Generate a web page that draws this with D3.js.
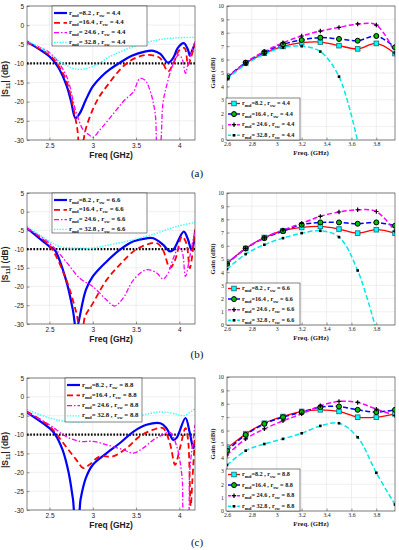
<!DOCTYPE html>
<html>
<head>
<meta charset="utf-8">
<script src="https://cdn.jsdelivr.net/npm/d3@7"></script>
<style>
  body { margin: 0; background: #fff; }
  svg { display: block; }
</style>
</head>
<body>
<svg id="fig" width="399" height="550"></svg>
<script>
// ---- data: |S11| curves, [freq GHz, dB] ----
const s11A_md82 = [[2.24,-4.3],[2.5,-8.2],[2.6,-11],[2.7,-16],[2.75,-20],[2.8,-24.3],[2.85,-23],[2.92,-19.5],[3.0,-16],[3.1,-13.4],[3.2,-11.5],[3.3,-10],[3.45,-8],[3.6,-6.9],[3.7,-6.7],[3.78,-7.5],[3.87,-9.8],[3.93,-8.5],[3.98,-6],[4.05,-4.7],[4.1,-6.5],[4.12,-8],[4.15,-6.5],[4.18,-4.8]];
const s11A_md164 = [[2.24,-4.5],[2.5,-7.8],[2.6,-10.5],[2.69,-14.3],[2.76,-20],[2.82,-27],[2.85,-32],[2.88,-31],[2.92,-27],[3.0,-22],[3.08,-18.5],[3.16,-16],[3.28,-12.5],[3.39,-10],[3.5,-8.5],[3.62,-7.8],[3.72,-8],[3.78,-8.7],[3.87,-12.1],[3.93,-10],[4.0,-6.5],[4.06,-6],[4.1,-10.4],[4.14,-8],[4.18,-4.7]];
const s11A_md246 = [[2.24,-4.5],[2.5,-7.2],[2.69,-13],[2.8,-22.2],[2.89,-27.4],[2.96,-28.7],[3.0,-29.3],[3.08,-27.4],[3.17,-25],[3.27,-22.2],[3.37,-19.5],[3.47,-17.4],[3.54,-14],[3.6,-14.3],[3.66,-17],[3.72,-23],[3.75,-32],[3.77,-32],[3.81,-20.4],[3.85,-16],[3.93,-10],[3.99,-7.8],[4.03,-8.7],[4.07,-12.6],[4.1,-10],[4.18,-4.3]];
const s11A_md328 = [[2.24,-4],[2.5,-7.4],[2.62,-9.5],[2.81,-11.5],[3.0,-10.8],[3.2,-8.2],[3.47,-5.6],[3.74,-3.9],[3.97,-3.3],[4.18,-3.2]];

const s11B_md82 = [[2.24,-4.4],[2.5,-9.3],[2.56,-10.2],[2.69,-18.2],[2.77,-26.3],[2.81,-32],[2.84,-29],[2.92,-20.9],[3.0,-17.3],[3.16,-13.3],[3.31,-10.2],[3.47,-7.9],[3.62,-7.1],[3.7,-7.1],[3.81,-8.8],[3.89,-10.6],[3.93,-10.2],[4.05,-5.3],[4.1,-7.5],[4.14,-10.2],[4.18,-6.6]];
const s11B_md164 = [[2.24,-4.4],[2.5,-9.1],[2.69,-18],[2.81,-27],[2.85,-31],[2.88,-31],[2.91,-28],[3.0,-24.5],[3.16,-18.2],[3.31,-14.2],[3.47,-10.6],[3.62,-8.8],[3.74,-8.4],[3.81,-10.2],[3.89,-15],[3.95,-12.9],[4.03,-6.6],[4.08,-8.4],[4.12,-15.1],[4.18,-4.8]];
const s11B_md246 = [[2.24,-4.4],[2.5,-8.4],[2.69,-13.3],[2.85,-17.8],[3.0,-20],[3.16,-23.6],[3.25,-25.2],[3.35,-23.1],[3.47,-18.2],[3.62,-15.5],[3.74,-16.4],[3.81,-18],[3.87,-16.4],[3.93,-12.4],[3.99,-9.7],[4.03,-10.6],[4.07,-17.3],[4.12,-12],[4.18,-4.8]];
const s11B_md328 = [[2.24,-3.9],[2.5,-7.9],[2.62,-9.3],[2.81,-9.7],[3.0,-9.7],[3.2,-8.8],[3.47,-7.5],[3.74,-5.7],[3.97,-3.9],[4.18,-2.9]];

const s11C_md82 = [[2.24,-4.1],[2.5,-8.3],[2.56,-9.8],[2.65,-14],[2.72,-20],[2.77,-27],[2.8,-32],[2.83,-32],[2.86,-27],[2.92,-21.5],[3.0,-18],[3.16,-14.9],[3.31,-12.3],[3.47,-9.2],[3.62,-7.4],[3.78,-7],[3.85,-8.3],[3.93,-11.4],[3.97,-10.8],[4.07,-5.6],[4.12,-9.6],[4.16,-13.6],[4.18,-11.8]];
const s11C_md164 = [[2.24,-3.9],[2.5,-7.8],[2.69,-13.2],[2.81,-16.7],[2.89,-18.9],[2.96,-18],[3.08,-15.8],[3.23,-15.8],[3.39,-13.6],[3.54,-10.5],[3.7,-8.7],[3.81,-8.3],[3.89,-12.3],[3.95,-18],[4.01,-13.2],[4.07,-8.3],[4.1,-11.4],[4.13,-29],[4.15,-22],[4.18,-10.5]];
const s11C_md246 = [[2.24,-4.1],[2.5,-7.4],[2.69,-10.5],[2.85,-11.8],[3.0,-11.8],[3.16,-12.7],[3.35,-14],[3.47,-14.9],[3.58,-13.6],[3.7,-11.4],[3.81,-10.1],[3.89,-9.4],[3.97,-13.2],[4.03,-21.1],[4.06,-33],[4.09,-33],[4.12,-19.3],[4.18,-7.4]];
const s11C_md328 = [[2.24,-3.4],[2.5,-5.6],[2.69,-6.5],[3.0,-6.5],[3.27,-6.1],[3.54,-5],[3.78,-4],[3.97,-4.6],[4.05,-5],[4.18,-3.1]];

// ---- data: gain (dBi) ----
const gainFreq = [2.6, 2.75, 2.9, 3.05, 3.2, 3.35, 3.5, 3.65, 3.8, 3.95];
const gainA_md82  = [4.65, 5.72, 6.47, 6.98, 7.26, 7.31, 7.04, 6.8, 7.21, 6.45];
const gainA_md164 = [4.68, 5.77, 6.55, 7.14, 7.46, 7.64, 7.54, 7.41, 7.76, 6.92];
const gainA_md246 = [4.6, 5.8, 6.6, 7.26, 7.76, 8.13, 8.4, 8.66, 8.58, 6.5];
const gainA_md328 = [4.55, 5.65, 6.4, 6.9, 7.0, 6.6, 4.73, -0.1, null, null];

const gainB_md82  = [4.68, 5.8, 6.63, 7.14, 7.39, 7.47, 7.27, 6.96, 7.22, 6.96];
const gainB_md164 = [4.63, 5.8, 6.58, 7.11, 7.6, 7.77, 7.77, 7.67, 7.77, 7.52];
const gainB_md246 = [4.65, 5.8, 6.6, 7.2, 7.7, 8.23, 8.56, 8.73, 8.6, 7.1];
const gainB_md328 = [4.23, 5.37, 6.08, 6.58, 6.96, 7.14, 6.66, 4.13, -0.4, null];

const gainC_md82  = [4.68, 5.75, 6.55, 7.05, 7.43, 7.55, 7.43, 7.0, 7.0, 7.25];
const gainC_md164 = [4.5, 5.68, 6.5, 7.0, 7.38, 7.75, 7.8, 7.55, 7.38, 7.55];
const gainC_md246 = [4.18, 5.38, 6.13, 6.73, 7.25, 7.85, 8.18, 8.1, 7.6, 7.13];
const gainC_md328 = [3.43, 4.5, 5.0, 5.38, 5.8, 6.35, 6.55, 5.5, 2.85, 0.48];

// ---- labels / ticks ----
const rmdLabels = ["=8.2", "=16.4", "= 24.6", "= 32.8"];
const rswLabels = ["4.4", "6.6", "8.8"];
const panelLabels = ["(a)", "(b)", "(c)"];
const s11XTicks = [2.5, 3, 3.5, 4];
const s11YTicks = [5, 0, -5, -10, -15, -20, -25, -30];
const gainXTicks = [2.6, 2.8, 3, 3.2, 3.4, 3.6, 3.8];
const gainYTicks = [0, 1, 2, 3, 4, 5, 6, 7, 8, 9, 10];

const svg = d3.select("#fig");
const serif = "'Liberation Serif', 'Times New Roman', serif";
const sans = "'Liberation Sans', Arial, sans-serif";

// MATLAB style box axes, ticks pointing in, light grid
function frame(g, x, y, xt, yt, font, fs, clipId, padX) {
    const [x0, x1] = x.range();
    const [y1, y0] = y.range();

    g.append("g").selectAll("line").data(xt).join("line")
        .attr("x1", d => x(d)).attr("x2", d => x(d))
        .attr("y1", y0).attr("y2", y1)
        .attr("stroke", "#e4e4e4").attr("stroke-width", 0.6);
    g.append("g").selectAll("line").data(yt).join("line")
        .attr("x1", x0).attr("x2", x1)
        .attr("y1", d => y(d)).attr("y2", d => y(d))
        .attr("stroke", "#e4e4e4").attr("stroke-width", 0.6);

    const fmt = d => String(d);
    const bx = g.append("g").attr("transform", `translate(0,${y1})`)
        .call(d3.axisBottom(x).tickValues(xt).tickSizeInner(-2.5).tickSizeOuter(0).tickPadding(padX).tickFormat(fmt));
    const by = g.append("g").attr("transform", `translate(${x0},0)`)
        .call(d3.axisLeft(y).tickValues(yt).tickSizeInner(-2.5).tickSizeOuter(0).tickPadding(3).tickFormat(fmt));
    [bx, by].forEach(a => {
        a.select(".domain").remove();
        a.selectAll("line").attr("stroke", "#333").attr("stroke-width", 0.5);
        a.selectAll("text").attr("font-family", font).attr("font-size", fs).attr("fill", "#222");
    });

    g.append("clipPath").attr("id", clipId).append("rect")
        .attr("x", x0).attr("y", y0).attr("width", x1 - x0).attr("height", y1 - y0);
}

function subLabel(t, k, row) {
    t.append("tspan").text("r");
    t.append("tspan").attr("dy", 2).attr("font-size", 4.8).text("md");
    t.append("tspan").attr("dy", -2).text(rmdLabels[k] + " , r");
    t.append("tspan").attr("dy", 2).attr("font-size", 4.8).text("sw");
    t.append("tspan").attr("dy", -2).text(" = " + rswLabels[row]);
}

const s11Styles = [
    { color: "#0000ff", width: 2.2, dash: null },
    { color: "#ff0000", width: 1.8, dash: "6,3.5" },
    { color: "#ff00ff", width: 1.3, dash: "5,2,1.5,2" },
    { color: "#33ffff", width: 1.4, dash: "1.4,1.4" }
];

function drawS11(row, series, top, bottom, leg) {
    const x = d3.scaleLinear().domain([2.24, 4.18]).range([27, 195]);
    const y = d3.scaleLinear().domain([-30, 5]).range([bottom, top]);
    const g = svg.append("g");
    const clipId = "c_s11_" + row;
    frame(g, x, y, s11XTicks, s11YTicks, sans, 6.5, clipId, 3);

    const line = d3.line().x(d => x(d[0])).y(d => y(d[1])).curve(d3.curveCatmullRom.alpha(0.5));
    const lg = g.append("g").attr("clip-path", `url(#${clipId})`);

    lg.append("line")
        .attr("x1", x(2.24)).attr("x2", x(4.18)).attr("y1", y(-10)).attr("y2", y(-10))
        .attr("stroke", "#000").attr("stroke-width", 2.2).attr("stroke-dasharray", "1.6,1.6");

    series.forEach((s, k) => {
        const st = s11Styles[k];
        lg.append("path").datum(s).attr("d", line).attr("fill", "none")
            .attr("stroke", st.color).attr("stroke-width", st.width)
            .attr("stroke-dasharray", st.dash);
    });

    g.append("rect").attr("x", 27).attr("y", top).attr("width", 168).attr("height", bottom - top)
        .attr("fill", "none").attr("stroke", "#333").attr("stroke-width", 0.6);

    // legend
    const L = g.append("g");
    L.append("rect").attr("x", leg.x).attr("y", leg.y).attr("width", leg.w).attr("height", leg.h)
        .attr("fill", "#fff").attr("stroke", "#333").attr("stroke-width", 0.6);
    series.forEach((s, k) => {
        const st = s11Styles[k];
        const yy = leg.y + 7 + k * leg.dy;
        L.append("line").attr("x1", leg.x + 2).attr("x2", leg.x + 15).attr("y1", yy).attr("y2", yy)
            .attr("stroke", st.color).attr("stroke-width", st.width).attr("stroke-dasharray", st.dash);
        const t = L.append("text").attr("x", leg.x + 17).attr("y", yy + 1.5)
            .attr("font-family", serif).attr("font-weight", "bold").attr("font-size", 6.8).attr("fill", "#111");
        subLabel(t, k, row);
    });

    g.append("text").attr("x", 111).attr("y", bottom + 18)
        .attr("text-anchor", "middle").attr("font-family", sans).attr("font-weight", "bold")
        .attr("font-size", 8.5).attr("fill", "#222").text("Freq (GHz)");

    const yl = g.append("text")
        .attr("transform", `translate(8,${(top + bottom) / 2 + 6}) rotate(-90)`)
        .attr("text-anchor", "middle").attr("font-family", sans).attr("font-weight", "bold")
        .attr("font-size", 8.5).attr("fill", "#222");
    yl.append("tspan").text("|S");
    yl.append("tspan").attr("dy", 2).attr("font-size", 6).text("11");
    yl.append("tspan").attr("dy", -2).text("| (dB)");
}

const gainStyles = [
    { color: "#ff0000", width: 1.3, dash: null, marker: "sq" },
    { color: "#0000ff", width: 1.5, dash: "5,2.5", marker: "circ" },
    { color: "#ff00ff", width: 1.5, dash: "5,2.5", marker: "plus" },
    { color: "#00e8e8", width: 1.5, dash: "5,2.5", marker: "dot" }
];

function marker(sel, type, px, py) {
    if (type === "sq") {
        sel.append("rect").attr("x", px - 2.3).attr("y", py - 2.3).attr("width", 4.6).attr("height", 4.6)
            .attr("fill", "#00ffff").attr("stroke", "#137a86").attr("stroke-width", 0.9);
    } else if (type === "circ") {
        sel.append("circle").attr("cx", px).attr("cy", py).attr("r", 2.5)
            .attr("fill", "#00c000").attr("stroke", "#000").attr("stroke-width", 1);
    } else if (type === "plus") {
        sel.append("path").attr("d", `M${px - 2.2},${py}H${px + 2.2}M${px},${py - 2.2}V${py + 2.2}`)
            .attr("stroke", "#000").attr("stroke-width", 1.2);
    } else {
        sel.append("rect").attr("x", px - 1.3).attr("y", py - 1.3).attr("width", 2.6).attr("height", 2.6)
            .attr("fill", "#000");
    }
}

function drawGain(row, series, top, bottom) {
    const x = d3.scaleLinear().domain([2.6, 3.95]).range([227, 395]);
    const y = d3.scaleLinear().domain([0, 10]).range([bottom, top]);
    const g = svg.append("g");
    const clipId = "c_gain_" + row;
    frame(g, x, y, gainXTicks, gainYTicks, serif, 5.8, clipId, 1.5);

    const line = d3.line().defined(d => d != null)
        .x((d, i) => x(gainFreq[i])).y(d => y(d)).curve(d3.curveCatmullRom.alpha(0.5));
    const lg = g.append("g").attr("clip-path", `url(#${clipId})`);

    series.forEach((s, k) => {
        const st = gainStyles[k];
        lg.append("path").datum(s).attr("d", line).attr("fill", "none")
            .attr("stroke", st.color).attr("stroke-width", st.width).attr("stroke-dasharray", st.dash);
    });
    series.forEach((s, k) => {
        s.forEach((v, i) => {
            if (v == null || v < 0) return;
            marker(lg, gainStyles[k].marker, x(gainFreq[i]), y(v));
        });
    });

    g.append("rect").attr("x", 227).attr("y", top).attr("width", 168).attr("height", bottom - top)
        .attr("fill", "none").attr("stroke", "#333").attr("stroke-width", 0.6);

    // legend, lower left
    const lx = 226, lw = 74, lh = 42, ly = bottom - lh;
    const L = g.append("g");
    L.append("rect").attr("x", lx).attr("y", ly).attr("width", lw).attr("height", lh)
        .attr("fill", "#fff").attr("stroke", "#333").attr("stroke-width", 0.6);
    series.forEach((s, k) => {
        const st = gainStyles[k];
        const yy = ly + 5.5 + k * 10.6;
        L.append("line").attr("x1", lx + 2).attr("x2", lx + 14).attr("y1", yy).attr("y2", yy)
            .attr("stroke", st.color).attr("stroke-width", st.width).attr("stroke-dasharray", st.dash ? "3,1.5" : null);
        marker(L, st.marker, lx + 8, yy);
        const t = L.append("text").attr("x", lx + 16).attr("y", yy + 1.5)
            .attr("font-family", serif).attr("font-weight", "bold").attr("font-size", 6.2).attr("fill", "#111");
        subLabel(t, k, row);
    });

    g.append("text").attr("x", 311).attr("y", bottom + 15)
        .attr("text-anchor", "middle").attr("font-family", serif).attr("font-weight", "bold")
        .attr("font-size", 6.8).attr("fill", "#222").text("Freq. (GHz)");

    g.append("text")
        .attr("transform", `translate(215,${(top + bottom) / 2}) rotate(-90)`)
        .attr("text-anchor", "middle").attr("font-family", serif).attr("font-weight", "bold")
        .attr("font-size", 6.8).attr("fill", "#222").text("Gain (dBi)");
}

drawS11(0, [s11A_md82, s11A_md164, s11A_md246, s11A_md328], 6, 140, { x: 52, y: 6, w: 95, h: 40, dy: 9.8 });
drawS11(1, [s11B_md82, s11B_md164, s11B_md246, s11B_md328], 193, 324, { x: 52, y: 193, w: 95, h: 40, dy: 9.8 });
drawS11(2, [s11C_md82, s11C_md164, s11C_md246, s11C_md328], 378, 510, { x: 65, y: 378, w: 77, h: 44, dy: 10.3 });

drawGain(0, [gainA_md82, gainA_md164, gainA_md246, gainA_md328], 6, 140);
drawGain(1, [gainB_md82, gainB_md164, gainB_md246, gainB_md328], 193, 325);
drawGain(2, [gainC_md82, gainC_md164, gainC_md246, gainC_md328], 377, 511);

// panel captions
const capY = [173, 354, 542];
panelLabels.forEach((c, i) => {
    svg.append("text").attr("x", 197).attr("y", capY[i] + 4)
        .attr("text-anchor", "middle").attr("font-family", serif)
        .attr("font-size", 11).attr("fill", "#111").text(c);
});
</script>
</body>
</html>
